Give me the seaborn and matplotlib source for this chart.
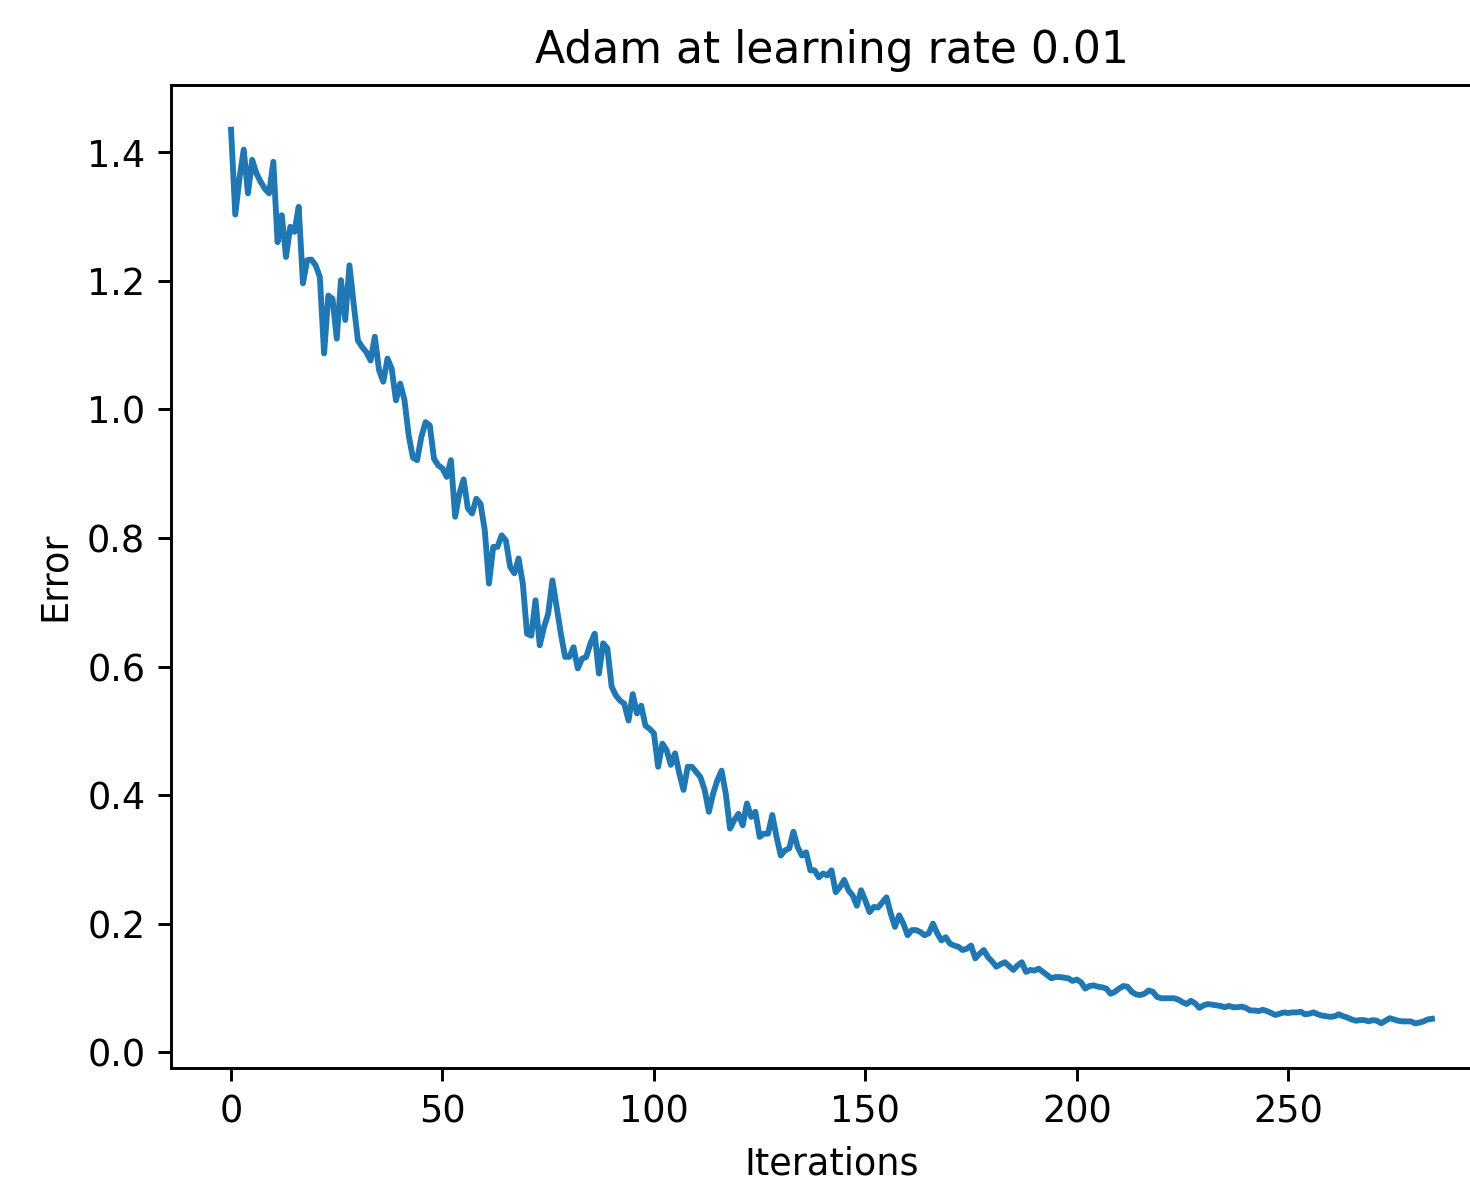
import matplotlib
matplotlib.use("Agg")
import matplotlib.pyplot as plt
import seaborn as sns
import numpy as np
import pandas as pd

# ---- data ----
title_text = "Adam at learning rate 0.01"
x_label = "Iterations"
y_label = "Error"

error_0_39 = [
    1.435, 1.303, 1.360, 1.404, 1.336, 1.388, 1.367, 1.354, 1.343, 1.336,
    1.385, 1.260, 1.302, 1.237, 1.284, 1.276, 1.315, 1.196, 1.232, 1.233,
    1.224, 1.206, 1.087, 1.177, 1.172, 1.110, 1.201, 1.139, 1.224, 1.164,
    1.107, 1.097, 1.089, 1.076, 1.113, 1.061, 1.043, 1.079, 1.063, 1.014,
]
error_40_99 = [
    1.040, 1.015, 0.960, 0.925, 0.921, 0.957, 0.980, 0.975, 0.923, 0.913,
    0.908, 0.895, 0.921, 0.833, 0.869, 0.891, 0.846, 0.838, 0.861, 0.853,
    0.812, 0.729, 0.786, 0.786, 0.804, 0.796, 0.755, 0.745, 0.768, 0.729,
    0.651, 0.648, 0.703, 0.633, 0.661, 0.682, 0.734, 0.693, 0.651, 0.615,
    0.615, 0.630, 0.597, 0.612, 0.615, 0.636, 0.651, 0.589, 0.636, 0.628,
    0.569, 0.555, 0.547, 0.542, 0.516, 0.557, 0.527, 0.539, 0.508, 0.503,
]
error_100_159 = [
    0.496, 0.444, 0.480, 0.470, 0.447, 0.465, 0.434, 0.408, 0.444, 0.444,
    0.436, 0.428, 0.408, 0.374, 0.402, 0.423, 0.438, 0.402, 0.348, 0.361,
    0.371, 0.353, 0.387, 0.366, 0.374, 0.335, 0.340, 0.340, 0.369, 0.335,
    0.306, 0.314, 0.317, 0.343, 0.319, 0.306, 0.311, 0.283, 0.283, 0.272,
    0.278, 0.275, 0.283, 0.249, 0.257, 0.268, 0.252, 0.244, 0.228, 0.252,
    0.236, 0.218, 0.226, 0.225, 0.233, 0.241, 0.216, 0.195, 0.213, 0.200,
]
error_160_219 = [
    0.182, 0.190, 0.190, 0.187, 0.182, 0.185, 0.200, 0.185, 0.174, 0.179,
    0.169, 0.166, 0.164, 0.159, 0.161, 0.166, 0.146, 0.153, 0.159, 0.148,
    0.141, 0.133, 0.137, 0.140, 0.134, 0.128, 0.135, 0.140, 0.125, 0.128,
    0.127, 0.130, 0.125, 0.120, 0.115, 0.117, 0.117, 0.116, 0.115, 0.111,
    0.113, 0.109, 0.099, 0.103, 0.104, 0.102, 0.101, 0.099, 0.091, 0.094,
    0.099, 0.103, 0.102, 0.094, 0.090, 0.089, 0.091, 0.096, 0.094, 0.086,
]
error_220_284 = [
    0.084, 0.084, 0.084, 0.084, 0.082, 0.078, 0.075, 0.080, 0.076, 0.069,
    0.073, 0.075, 0.074, 0.073, 0.072, 0.070, 0.072, 0.070, 0.070, 0.071,
    0.069, 0.065, 0.065, 0.064, 0.066, 0.064, 0.061, 0.058, 0.060, 0.062,
    0.061, 0.062, 0.062, 0.063, 0.059, 0.060, 0.062, 0.059, 0.057, 0.056,
    0.055, 0.056, 0.059, 0.056, 0.054, 0.051, 0.049, 0.050, 0.050, 0.048,
    0.050, 0.049, 0.045, 0.049, 0.053, 0.051, 0.049, 0.048, 0.048, 0.048,
    0.045, 0.046, 0.048, 0.051, 0.052,
]

errors = error_0_39 + error_40_99 + error_100_159 + error_160_219 + error_220_284
iterations = list(range(len(errors)))
df = pd.DataFrame({"Iterations": iterations, "Error": errors})

# ---- styling (scaled from matplotlib defaults) ----
S = 2.64
plt.rcParams.update({
    "font.family": ["DejaVu Sans"],
    "font.size": 10 * S,
    "axes.linewidth": 0.8 * S,
    "xtick.major.size": 3.5 * S,
    "ytick.major.size": 3.5 * S,
    "xtick.major.width": 0.8 * S,
    "ytick.major.width": 0.8 * S,
    "xtick.major.pad": 3.5 * S,
    "ytick.major.pad": 3.5 * S,
    "axes.labelpad": 4.0 * S,
    "axes.titlepad": 6.0 * S,
})

fig = plt.figure(figsize=(14.7, 11.8), dpi=100)
ax = fig.add_axes([171 / 1470, 112 / 1180, (1492 - 171) / 1470, (1068 - 85) / 1180])

sns.lineplot(data=df, x="Iterations", y="Error", ax=ax, color="#1f77b4",
             linewidth=1.6 * S, legend=False)

ax.set_title(title_text, fontsize=12 * S)
ax.set_xlabel(x_label, fontsize=10 * S)
ax.set_ylabel(y_label, fontsize=10 * S)
ax.tick_params(labelsize=10 * S)
# the reference is cropped just before the right spine
ax.spines["right"].set_visible(False)

fig.savefig("out.png", dpi=100)
